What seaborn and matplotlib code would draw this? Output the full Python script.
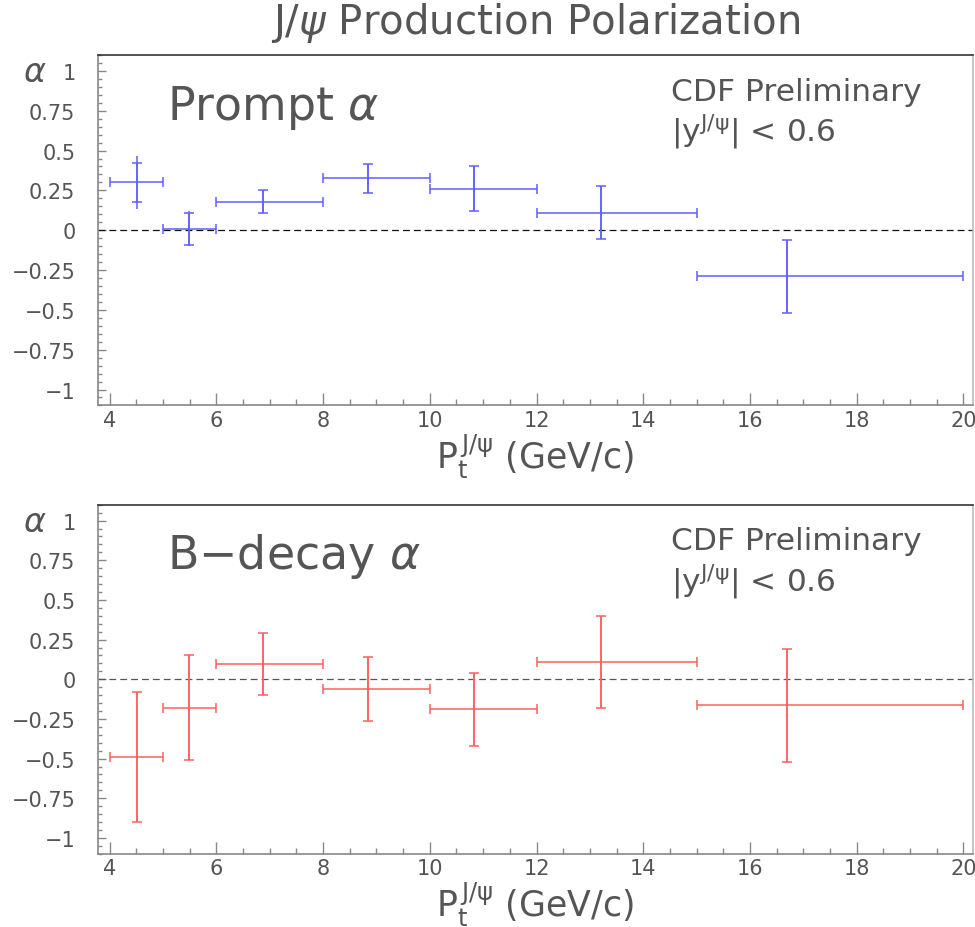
import numpy as np
import pandas as pd
import seaborn as sns
import matplotlib
matplotlib.use("Agg")
import matplotlib.pyplot as plt
from matplotlib.ticker import MultipleLocator, FuncFormatter

# Transverse-momentum bins (GeV/c) and mean pT inside each bin
bin_lo = [4, 5, 6, 8, 10, 12, 15]
bin_hi = [5, 6, 8, 10, 12, 15, 20]
pt_mean = [4.51, 5.49, 6.88, 8.85, 10.83, 13.2, 16.69]

# Prompt J/psi polarization: value, statistical error, total error
prompt_alpha = [0.30, 0.01, 0.18, 0.325, 0.26, 0.11, -0.29]
prompt_stat = [0.12, 0.10, 0.07, 0.09, 0.14, 0.166, 0.23]
prompt_tot = [0.165, 0.11, 0.07, 0.09, 0.14, 0.166, 0.23]

# J/psi from B decays: value, statistical error, total error
bdecay_alpha = [-0.49, -0.18, 0.096, -0.062, -0.19, 0.11, -0.164]
bdecay_stat = [0.41, 0.33, 0.197, 0.20, 0.23, 0.29, 0.355]
bdecay_tot = [0.41, 0.33, 0.197, 0.20, 0.23, 0.29, 0.355]

panels = ["Prompt $\\alpha$", "B$-$decay $\\alpha$"]

sns.set_theme(style="white")
plt.rcParams["font.family"] = ["DejaVu Sans"]
plt.rcParams["mathtext.fontset"] = "dejavusans"
plt.rcParams["axes.unicode_minus"] = True

TXT = "#555555"

fig = plt.figure(figsize=(9.75, 9.28), dpi=100)
ax_top = fig.add_axes([0.1002, 0.5620, 0.8977, 0.3777])
ax_bot = fig.add_axes([0.1002, 0.0789, 0.8977, 0.3761])

fig.text(0.549, 0.975, "J/$\\psi$ Production Polarization", ha="center", va="center",
         fontsize=29, color=TXT)


def frame(df, ax, color, title, zero_color):
    x = df["pt"].to_numpy()
    y = df["alpha"].to_numpy()
    xerr = np.vstack([x - df["lo"].to_numpy(), df["hi"].to_numpy() - x])
    # total error: plain line, no caps
    ax.errorbar(x, y, yerr=df["tot"], fmt="none", ecolor=color, elinewidth=1.1,
                capsize=0, zorder=3)
    # statistical error and bin width, with caps
    ax.errorbar(x, y, xerr=xerr, yerr=df["stat"], fmt="none", ecolor=color,
                elinewidth=1.1, capsize=3.4, capthick=1.1, zorder=3)
    ax.axhline(0, color=zero_color, lw=0.9, ls=(0, (5.5, 3.2)), zorder=2)

    ax.set_xlim(3.775, 20.18)
    ax.set_ylim(-1.1, 1.1)
    ax.xaxis.set_major_locator(MultipleLocator(2))
    ax.xaxis.set_minor_locator(MultipleLocator(0.5))
    ax.yaxis.set_major_locator(MultipleLocator(0.25))
    ax.yaxis.set_minor_locator(MultipleLocator(0.05))
    ax.yaxis.set_major_formatter(FuncFormatter(lambda v, p: f"{v:g}".replace("-", "\u2212")))
    ax.xaxis.set_major_formatter(FuncFormatter(lambda v, p: f"{v:g}"))
    ax.tick_params(axis="y", which="major", direction="in", length=6, width=1,
                   color="#888888", labelcolor=TXT, labelsize=15, pad=16,
                   left=True, right=False)
    ax.tick_params(axis="y", which="minor", direction="in", length=3, width=1,
                   color="#888888", left=True, right=False)
    ax.tick_params(axis="x", which="major", direction="in", length=9, width=1,
                   color="#888888", labelcolor=TXT, labelsize=15, pad=3,
                   bottom=True, top=False)
    ax.tick_params(axis="x", which="minor", direction="in", length=4.5, width=1,
                   color="#888888", bottom=True, top=False)
    for side, c in [("left", "#888888"), ("bottom", "#888888"),
                    ("top", "#333333"), ("right", "#bbbbbb")]:
        ax.spines[side].set_visible(True)
        ax.spines[side].set_color(c)
        ax.spines[side].set_linewidth(1.2)
    ax.set_facecolor("white")

    ax.set_xlabel("$\\mathregular{P_t^{\\,J/\\psi}}$ (GeV/c)", fontsize=25, color=TXT,
                  labelpad=1)
    ax.text(5.07, 0.70, title, fontsize=33, color=TXT, ha="left", va="baseline")
    ax.text(14.52, 0.82, "CDF Preliminary", fontsize=22.5, color=TXT,
            ha="left", va="baseline")
    ax.text(14.52, 0.56, "|y$^{\\mathregular{J/\\psi}}$| < 0.6", fontsize=22.5,
            color=TXT, ha="left", va="baseline")
    ax.text(-0.072, 0.952, "$\\alpha$", transform=ax.transAxes, fontsize=24,
            color=TXT, ha="center", va="center")


data = [
    (ax_top, prompt_alpha, prompt_stat, prompt_tot, "#5f5fff", "#111111"),
    (ax_bot, bdecay_alpha, bdecay_stat, bdecay_tot, "#ff5f5f", "#555555"),
]
for (ax, a, s, t, col, zc), title in zip(data, panels):
    df = pd.DataFrame({"pt": pt_mean, "lo": bin_lo, "hi": bin_hi,
                       "alpha": a, "stat": s, "tot": t})
    frame(df, ax, col, title, zc)

fig.savefig("out.png", dpi=100, facecolor="white")
